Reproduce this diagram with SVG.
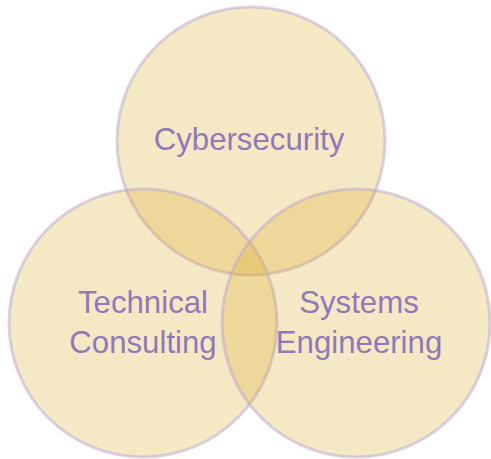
<svg xmlns="http://www.w3.org/2000/svg" width="491" height="459" viewBox="0 0 491 459">
<style>
.c{fill:#daa520;fill-opacity:0.26;stroke:#b9a6d2;stroke-opacity:0.5;stroke-width:3}
.t{font-family:"Liberation Sans",Arial,sans-serif;font-size:31.2px;fill:#9178b8;text-anchor:middle}
</style>
<rect width="491" height="459" fill="#ffffff"/>
<g id="cybersecurity">
<circle class="c" cx="251" cy="141" r="134"/>
<text class="t" x="249" y="150">Cybersecurity</text>
</g>
<g id="technical-consulting">
<circle class="c" cx="143" cy="323" r="134"/>
<text class="t" x="143" y="313">Technical</text>
<text class="t" x="143" y="353">Consulting</text>
</g>
<g id="systems-engineering">
<circle class="c" cx="356" cy="323" r="134"/>
<text class="t" x="359" y="313">Systems</text>
<text class="t" x="359" y="353">Engineering</text>
</g>
<g id="connectors"/>
</svg>
